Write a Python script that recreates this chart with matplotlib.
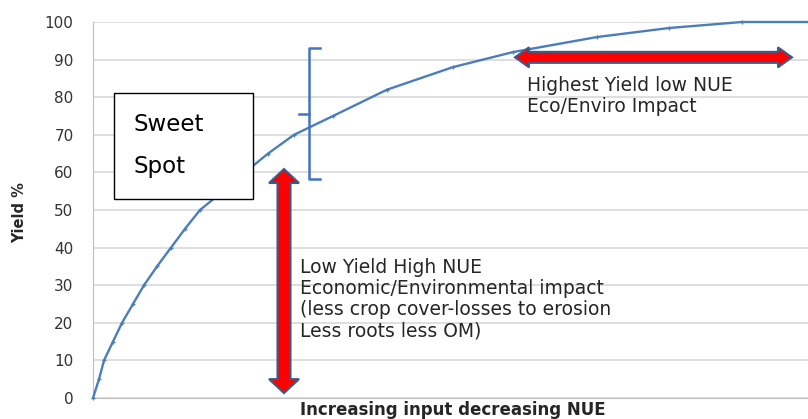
import numpy as np
import matplotlib
matplotlib.use("Agg")
import matplotlib.pyplot as plt
from matplotlib.patches import Polygon, Rectangle

# yield response to increasing input (input in arbitrary units)
input_level = [0, 6, 11, 20, 29, 40, 51, 64, 78, 92, 107, 130, 152, 175, 201,
               240, 294, 360, 420, 504, 576, 649, 722]
yield_pct = [0, 5, 10, 15, 20, 25, 30, 35, 40, 45, 50, 55, 60, 65, 70,
             75, 82, 88, 92, 96, 98.4, 100, 100]
yticks = [0, 10, 20, 30, 40, 50, 60, 70, 80, 90, 100]

line_blue = '#4A7EBB'
bracket_blue = '#4472C4'
arrow_red = '#FF0000'
arrow_edge = '#385D8A'


def double_arrow(ax, p0, p1, shaft, head_w, head_l):
    # arrow sizes are given in pixels, ends in data coords
    a = ax.transData.transform(p0)
    b = ax.transData.transform(p1)
    d = b - a
    u = d / np.hypot(*d)
    n = np.array([-u[1], u[0]])
    pts = [a,
           a + u * head_l + n * head_w / 2,
           a + u * head_l + n * shaft / 2,
           b - u * head_l + n * shaft / 2,
           b - u * head_l + n * head_w / 2,
           b,
           b - u * head_l - n * head_w / 2,
           b - u * head_l - n * shaft / 2,
           a + u * head_l - n * shaft / 2,
           a + u * head_l - n * head_w / 2]
    pts = ax.transData.inverted().transform(np.array(pts))
    ax.add_patch(Polygon(pts, closed=True, facecolor=arrow_red,
                         edgecolor=arrow_edge, lw=1.5, zorder=5))


fig = plt.figure(figsize=(8.08, 4.19), dpi=100)
ax = fig.add_axes([0.1151, 0.0501, 0.8849, 0.8974])
ax.set_xlim(0, 715)
ax.set_ylim(0, 100)

ax.plot(input_level, yield_pct, color=line_blue, lw=1.7, marker='+', ms=3.5,
        mew=0.9, zorder=3, clip_on=False)

ax.set_yticks(yticks)
ax.set_xticks([])
ax.tick_params(axis='y', length=0, pad=14, labelsize=11, labelcolor='#333333')
ax.grid(axis='y', color='#D9D9D9', lw=1.2)
ax.set_axisbelow(True)
for s in ['top', 'right']:
    ax.spines[s].set_visible(False)
ax.spines['left'].set_color('#BFBFBF')
ax.spines['bottom'].set_color('#BFBFBF')

fig.text(20 / 808, 1 - 213 / 419, 'Yield %', rotation=90, fontsize=10.5,
         fontweight='bold', ha='center', va='center', color='#262626')
fig.text(453 / 808, 1 - 410 / 419, 'Increasing input decreasing NUE',
         fontsize=12, fontweight='bold', ha='center', va='center',
         color='#262626')

# sweet spot box, sits on top of the curve
ax.add_patch(Rectangle((21, 52.9), 139, 28.2, facecolor='white',
                       edgecolor='black', lw=1, zorder=6))
ax.text(40, 71.0, 'Sweet', fontsize=16.5, va='baseline', zorder=7)
ax.text(40, 59.8, 'Spot', fontsize=16.5, va='baseline', zorder=7)

# blue bracket
bx, btop, bbot, bmid = 216, 93.1, 58.2, 75.5
ax.plot([227, bx, bx, 227], [btop, btop, bbot, bbot], color=bracket_blue,
        lw=1.8, zorder=4)
ax.plot([206, bx], [bmid, bmid], color=bracket_blue, lw=1.8, zorder=4)

fig.canvas.draw()
double_arrow(ax, (191, 1.3), (191, 60.9), 13, 30, 14)
double_arrow(ax, (422, 90.6), (699, 90.6), 11, 20, 14)

ax.text(434, 80.3, 'Highest Yield low NUE\nEco/Enviro Impact', fontsize=13.5,
        va='center', linespacing=1.12, color='#262626')
ax.text(207, 26.3, 'Low Yield High NUE\nEconomic/Environmental impact\n'
        '(less crop cover-losses to erosion\nLess roots less OM)',
        fontsize=13.5, va='center', linespacing=1.15, color='#262626')

fig.savefig('out.png', dpi=100)
